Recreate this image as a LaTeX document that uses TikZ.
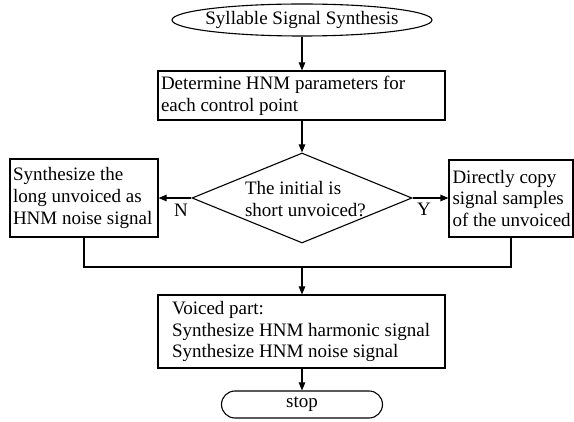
\documentclass[tikz,border=0pt]{standalone}
\usepackage{fontspec}
\setmainfont{Liberation Serif}
\usetikzlibrary{shapes.geometric,shapes.misc,arrows.meta}
\begin{document}
\begin{tikzpicture}[x=1pt,y=-1pt,line width=1.1pt,
  font=\fontsize{19}{21.7}\selectfont,
  box/.style={draw, rectangle, inner sep=0pt},
  arr/.style={-{Triangle[length=8pt,width=6.5pt]}},
  txt/.style={inner sep=0pt, align=left}]
\useasboundingbox (0,0) rectangle (574,422);
% shapes
\node[draw, ellipse, minimum width=260, minimum height=32, inner sep=0pt] (start) at (302,20) {};
\node[box, minimum width=287, minimum height=49] (det) at (301.5,95.5) {};
\node[draw, diamond, minimum width=220, minimum height=90, inner sep=0pt] (dia) at (302,198) {};
\node[box, minimum width=148, minimum height=78] (left) at (84,198) {};
\node[box, minimum width=124, minimum height=77] (right) at (511,198.5) {};
\coordinate (jn) at (302,267);
\node[box, minimum width=287, minimum height=73] (bot) at (301.5,331.5) {};
\node[draw, rounded rectangle, minimum width=161, minimum height=27, inner sep=0pt] (stop) at (302,404.5) {stop};
% texts
\node[txt] (starttext) at (start.center) {Syllable Signal Synthesis};
\node[txt, anchor=west] (dettext) at ([xshift=3pt]det.west) {Determine HNM parameters for\\each control point};
\node[txt] (diatext) at (305.5,199) {The initial is\\short unvoiced?};
\node[txt, anchor=west] (lefttext) at ([xshift=3pt]left.west) {Synthesize the\\long unvoiced as\\HNM noise signal};
\node[txt, anchor=west] (righttext) at ([xshift=3.5pt]right.west) {Directly copy\\signal samples\\of the unvoiced};
\node[txt, anchor=west] (bottext) at ([xshift=14pt]bot.west) {Voiced part:\\Synthesize HNM harmonic signal\\Synthesize HNM noise signal};
% labels
\node[txt] (nlab) at (181,210) {N};
\node[txt] (ylab) at (424,209) {Y};
% connectors
\draw[arr] (start.south) -- (det.north -| start.south);
\draw[arr] (det.south -| dia.north) -- (dia.north);
\draw[arr] (dia.west) -- (left.east |- dia.west);
\draw[arr] (dia.east) -- (right.west |- dia.east);
\draw (left.south) |- (jn) -| (right.south);
\draw[arr] (jn) -- (bot.north -| jn);
\draw[arr] (bot.south -| stop.north) -- (stop.north);
\end{tikzpicture}
\end{document}
